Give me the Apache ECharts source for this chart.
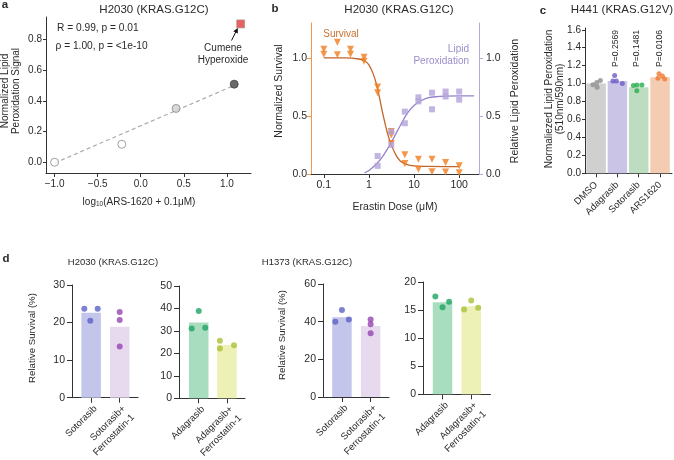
<!DOCTYPE html>
<html>
<head>
<meta charset="utf-8">
<script src="https://cdn.jsdelivr.net/npm/echarts@6/dist/echarts.min.js"></script>
<style>
  html, body { margin: 0; padding: 0; background: #fff; }
  #chart { width: 674px; height: 460px; }
</style>
</head>
<body>
<div id="chart"></div>
<script>
// ---------- data ----------
// a: lipid peroxidation vs log10 ARS-1620 dose
const aDoseLog = [-1.0, -0.22, 0.41, 1.085];
const aSignal = [0.0, 0.117, 0.35, 0.508];
const cumeneDoseLog = [1.16];
const cumeneSignal = [0.90];
const aFitLog = [-1.0, 1.085];
const aFitSignal = [-0.005, 0.5];
const aXTicks = [-1, -0.5, 0, 0.5, 1];
const aYTicks = [0, 0.2, 0.4, 0.6, 0.8];

// b: erastin dose response
const erastinDose = [0.1, 0.2, 0.39, 0.78, 1.56, 3.125, 6.25, 12.5, 25, 50, 100];
const survivalRep1 = [1.075, 1.135, 1.075, 1.006, 0.75, 0.365, 0.165, 0.127, 0.127, 0.098, 0.07];
const survivalRep2 = [1.03, 1.026, 1.03, 0.97, 0.70, 0.335, 0.09, 0.04, 0.02, 0.018, 0.01];
const survivalRep3 = [null, null, null, null, null, 0.263, null, null, null, null, null];
const lipidRep1 = [null, null, null, null, 0.155, 0.365, 0.537, 0.66, 0.70, 0.71, 0.71];
const lipidRep2 = [null, null, null, null, 0.07, 0.25, 0.437, 0.625, 0.557, 0.667, 0.64];
const survivalFitDose = [0.1, 0.3, 0.6, 0.8, 1.0, 1.25, 1.5, 1.75, 2.0, 2.5, 3.0, 4.0, 5.0, 7.0, 10, 20, 50, 100];
const survivalFit = [1.0, 1.0, 0.99, 0.975, 0.94, 0.86, 0.76, 0.64, 0.53, 0.37, 0.27, 0.16, 0.11, 0.08, 0.07, 0.065, 0.064, 0.064];
const lipidFitDose = [0.8, 1.0, 1.5, 2.0, 3.0, 4.0, 5.0, 7.0, 10, 15, 20, 30, 50, 100, 215];
const lipidFit = [0.01, 0.03, 0.09, 0.15, 0.26, 0.35, 0.42, 0.52, 0.59, 0.635, 0.655, 0.665, 0.67, 0.672, 0.672];
const bXTicks = [0.1, 1, 10, 100];
const bYTicks = [0, 0.5, 1.0];

// c: H441 lipid peroxidation
const cCats = ['DMSO', 'Adagrasib', 'Sotorasib', 'ARS1620'];
const cMeans = [1.0, 1.03, 0.96, 1.07];
const cDmso = [0.986, 1.011, 1.034, 0.96];
const cAdagrasib = [1.09, 1.03, 1.03, 1.0];
const cSotorasib = [0.98, 0.985, 0.985, 0.92];
const cArs1620 = [1.11, 1.086, 1.06, 1.05];
const cPValues = ['P=0.2569', 'P=0.1481', 'P=0.0106'];
const cYTicks = [0, 0.2, 0.4, 0.6, 0.8, 1.0, 1.2, 1.4, 1.6];

// d: relative survival
const sotoCats = ['Sotorasib', 'Sotorasib+\nFerrostatin-1'];
const adaCats = ['Adagrasib', 'Adagrasib+\nFerrostatin-1'];
const h2030SotoMeans = [22.6, 18.9];
const h2030Soto = [23.7, 20.5, 23.7];
const h2030SotoFer = [22.8, 20.7, 13.6];
const h2030AdaMeans = [33.8, 23.7];
const h2030Ada = [38.9, 31.1, 31.4];
const h2030AdaFer = [25.6, 22.2, 23.6];
const h1373SotoMeans = [42.3, 37.7];
const h1373Soto = [40.0, 46.2, 41.2];
const h1373SotoFer = [41.2, 38.6, 33.8];
const h1373AdaMeans = [16.4, 15.7];
const h1373Ada = [17.4, 15.5, 16.5];
const h1373AdaFer = [15.1, 16.7, 15.4];

// ---------- layout / style ----------
const FONT = '"Liberation Sans", Arial, Helvetica, sans-serif';
const INK = '#2a2a2a';
const AXIS = '#333';

// horizontal dot offsets inside each bar (layout only)
const cJitter = [[-0.15, 0.03, 0.2, 0.05], [-0.13, -0.21, -0.05, 0.23], [-0.25, -0.08, 0.15, -0.09], [-0.05, 0.11, -0.1, 0.22]];
const d1Jitter = [[-0.24, -0.03, 0.23], [0, 0, 0]];
const d2Jitter = [[0, -0.25, 0.23], [-0.25, -0.25, 0.25]];
const d3Jitter = [[-0.23, 0, 0.24], [0, 0, 0]];
const d4Jitter = [[-0.25, 0, 0.23], [-0.25, 0, 0.24]];

const cBarColors = ['#d0d0d0', '#cac4e6', '#bedcc0', '#f4ccb2'];
const cDotColors = ['#8f8f8f', '#6a5cc8', '#26ad4c', '#ee7a35'];
const sotoBar = ['#c3c6ea', '#e7daef'], sotoDot = ['#5c62c4', '#9545b2'];
const adaBar = ['#a9ddbf', '#eef1b5'], adaDot = ['#1fa463', '#a9c23a'];

function axisBase(color, ticks, fmt, extra) {
  const ax = {
    axisLine: { show: true, onZero: false, lineStyle: { color: color, width: 1 } },
    splitLine: { show: false },
    axisTick: { show: true, length: 4, customValues: ticks, lineStyle: { color: color, width: 1 } },
    axisLabel: { customValues: ticks, formatter: fmt, color: INK, fontSize: 10, fontFamily: FONT, margin: 4 }
  };
  return Object.assign(ax, extra || {});
}
const fix1 = v => (v < -1e-9 ? '\u2212' : '') + Math.abs(v).toFixed(1);

const grids = [
  { left: 46, top: 17, width: 205, height: 156 },      // a
  { left: 311, top: 23, width: 168, height: 151 },     // b
  { left: 585, top: 28, width: 87, height: 145.3 },    // c
  { left: 72, top: 285, width: 66, height: 112.7 },    // d1
  { left: 179, top: 286, width: 66, height: 112.3 },   // d2
  { left: 323, top: 284, width: 66, height: 113 },     // d3
  { left: 423, top: 282, width: 67.5, height: 112.3 }  // d4
].map(g => Object.assign({ outerBoundsMode: 'none', containLabel: false }, g));

function catX(grid, cats, min, max, fontSize, margin, vAlign, lh) {
  const a = axisBase(AXIS, [0, 1, 2, 3].slice(0, cats.length), v => cats[Math.round(v)], {
    gridIndex: grid, type: 'value', min: min, max: max
  });
  a.axisTick.length = 5;
  Object.assign(a.axisLabel, { rotate: 45, fontSize: fontSize, margin: margin, lineHeight: lh });
  if (vAlign) a.axisLabel.verticalAlign = vAlign;
  return a;
}
function valY(grid, min, max, ticks, fmt, color, extra) {
  return axisBase(color || AXIS, ticks, fmt, Object.assign({ gridIndex: grid, type: 'value', min: min, max: max }, extra || {}));
}

const xAxes = [
  axisBase(AXIS, aXTicks, fix1, { gridIndex: 0, type: 'value', min: -1.1, max: 1.28 }),
  axisBase(AXIS, bXTicks, v => String(Math.round(v * 10) / 10), { gridIndex: 1, type: 'log', logBase: 10, min: 0.052, max: 275 }),
  catX(2, cCats, -0.52, 3.56, 9.5, 10, null, 11),
  catX(3, sotoCats, -0.67, 1.64, 9.5, 5, 'top', 12.5),
  catX(4, adaCats, -0.70, 1.64, 9.5, 5, 'top', 12.5),
  catX(5, sotoCats, -0.66, 1.64, 9.5, 5, 'top', 12.5),
  catX(6, adaCats, -0.68, 1.67, 9.5, 5, 'top', 12.5)
];
xAxes[0].axisLabel.margin = 6;
xAxes[1].axisLabel.margin = 6;
xAxes[1].axisLabel.fontSize = 10.5;
xAxes[2].axisTick.length = 4;

const yAxes = [
  valY(0, -0.07, 0.945, aYTicks, fix1),
  valY(1, 0, 1.3, bYTicks, fix1, '#f3954a'),
  valY(1, 0, 1.3, bYTicks, fix1, '#b7a8dc', { position: 'right' }),
  valY(2, 0, 1.62, cYTicks, fix1),
  valY(3, 0, 30, [0, 10, 20, 30], String),
  valY(4, 0, 50, [0, 10, 20, 30, 40, 50], String),
  valY(5, 0, 60, [0, 20, 40, 60], String),
  valY(6, 0, 20, [0, 5, 10, 15, 20], String)
];
yAxes[0].axisTick.length = 3;
yAxes[1].axisLabel.fontSize = 10.5;
yAxes[2].axisLabel.fontSize = 10.5;
yAxes[2].axisLabel.margin = 7;
yAxes[3].axisTick.length = 3;
for (let i = 4; i < 8; i++) {
  yAxes[i].axisTick.length = 5;
  yAxes[i].axisLabel.margin = 7;
  yAxes[i].axisLabel.fontSize = 10.5;
}

// ---------- series ----------
const series = [];

// a
series.push({
  type: 'line', xAxisIndex: 0, yAxisIndex: 0, z: 1, silent: true, showSymbol: false,
  data: aFitLog.map((x, i) => [x, aFitSignal[i]]),
  lineStyle: { color: '#aaaaaa', width: 1.2, type: [4, 3] }
});
const aFills = ['#ffffff', '#ffffff', '#cfcfcf', '#454545'];
series.push({
  type: 'scatter', xAxisIndex: 0, yAxisIndex: 0, z: 3, symbolSize: 8,
  data: aDoseLog.map((x, i) => ({ value: [x, aSignal[i]], itemStyle: { color: aFills[i], borderColor: i === 3 ? '#454545' : '#888', borderWidth: 1 } }))
});
series.push({
  type: 'scatter', xAxisIndex: 0, yAxisIndex: 0, z: 3, symbol: 'rect', symbolSize: 8,
  data: cumeneDoseLog.map((x, i) => [x, cumeneSignal[i]]),
  itemStyle: { color: '#e5383b', borderColor: '#999', borderWidth: 0.8 }
});

// b
const pairs = (xs, ys) => xs.map((x, i) => [x, ys[i]]).filter(p => p[1] != null);
series.push({
  type: 'line', xAxisIndex: 1, yAxisIndex: 1, z: 2, showSymbol: false, smooth: 0.3,
  data: pairs(survivalFitDose, survivalFit), lineStyle: { color: '#c4652b', width: 1.3 }
});
series.push({
  type: 'line', xAxisIndex: 1, yAxisIndex: 2, z: 2, showSymbol: false, smooth: 0.3,
  data: pairs(lipidFitDose, lipidFit), lineStyle: { color: '#9583cb', width: 1.3 }
});
[survivalRep1, survivalRep2, survivalRep3].forEach(rep => series.push({
  type: 'scatter', xAxisIndex: 1, yAxisIndex: 1, z: 3, symbol: 'triangle', symbolRotate: 180, symbolSize: 7,
  data: pairs(erastinDose, rep), itemStyle: { color: '#f07d1f' }
}));
[lipidRep1, lipidRep2].forEach(rep => series.push({
  type: 'scatter', xAxisIndex: 1, yAxisIndex: 2, z: 3, symbol: 'rect', symbolSize: 6,
  data: pairs(erastinDose, rep), itemStyle: { color: '#b3a3db' }
}));

// bar + dot panels
function barPanel(axis, means, reps, jitter, barColors, dotColors, barWidth, dotSize) {
  series.push({
    type: 'bar', xAxisIndex: axis, yAxisIndex: axis + 1, z: 2, barWidth: barWidth, silent: true,
    data: means.map((m, i) => ({ value: [i, m], itemStyle: { color: barColors[i] } }))
  });
  const dots = [];
  reps.forEach((rep, i) => rep.forEach((v, j) => dots.push({ value: [i + jitter[i][j], v], itemStyle: { color: dotColors[i] } })));
  series.push({ type: 'scatter', xAxisIndex: axis, yAxisIndex: axis + 1, z: 3, symbolSize: dotSize, data: dots });
}
barPanel(2, cMeans, [cDmso, cAdagrasib, cSotorasib, cArs1620], cJitter, cBarColors, cDotColors, 19.5, 5);
barPanel(3, h2030SotoMeans, [h2030Soto, h2030SotoFer], d1Jitter, sotoBar, sotoDot, 19.5, 6);
barPanel(4, h2030AdaMeans, [h2030Ada, h2030AdaFer], d2Jitter, adaBar, adaDot, 19.5, 6);
barPanel(5, h1373SotoMeans, [h1373Soto, h1373SotoFer], d3Jitter, sotoBar, sotoDot, 19.5, 6);
barPanel(6, h1373AdaMeans, [h1373Ada, h1373AdaFer], d4Jitter, adaBar, adaDot, 19.5, 6);

// ---------- text ----------
function txt(x, y, text, size, o) {
  o = o || {};
  const align = o.align || 'center';
  return {
    type: 'text', x: x, y: y, rotation: o.rot || 0, z: 100, silent: true,
    style: {
      text: text, fill: o.color || INK,
      font: (o.bold ? 'bold ' : '') + size + 'px ' + FONT,
      fontSize: size, fontFamily: FONT, fontWeight: o.bold ? 'bold' : 'normal',
      align: align, verticalAlign: 'middle', textAlign: align, textVerticalAlign: 'middle',
      lineHeight: o.lh || Math.round(size * 1.15), rich: o.rich
    }
  };
}
const UP = Math.PI / 2;
const graphics = [
  txt(5, 5, 'a', 11.5, { bold: true }),
  txt(275, 9, 'b', 11.5, { bold: true }),
  txt(543, 11, 'c', 11.5, { bold: true }),
  txt(6, 259, 'd', 11.5, { bold: true }),
  txt(154, 10, 'H2030 (KRAS.G12C)', 11.5),
  txt(399, 10, 'H2030 (KRAS.G12C)', 11.5),
  txt(622, 10, 'H441 (KRAS.G12V)', 11.5),
  txt(113, 262, 'H2030 (KRAS.G12C)', 9.5),
  txt(307, 262, 'H1373 (KRAS.G12C)', 9.5),
  // a
  txt(57, 28, 'R = 0.99, p = 0.01', 10.2, { align: 'left' }),
  txt(55.5, 46, '\u03c1 = 1.00, p = <1e-10', 10.2, { align: 'left' }),
  txt(223, 48.5, 'Cumene', 10),
  txt(223, 60, 'Hyperoxide', 10),
  txt(10.5, 91, 'Normalized Lipid\nPeroxidation Signal', 10, { rot: UP, lh: 11.5 }),
  {
    type: 'text', x: 139, y: 202, z: 100, silent: true,
    style: {
      text: '{n|log}{s|10}{n|(ARS-1620 + 0.1\u03bcM)}', align: 'center', verticalAlign: 'middle',
      textAlign: 'center', textVerticalAlign: 'middle',
      rich: {
        n: { fontSize: 10, fontFamily: FONT, fill: INK, color: INK, lineHeight: 12 },
        s: { fontSize: 6.5, fontFamily: FONT, fill: INK, color: INK, lineHeight: 12, padding: [5, 0, 0, 0] }
      }
    }
  },
  { type: 'line', z: 100, silent: true, shape: { x1: 231.5, y1: 40.5, x2: 236.4, y2: 30.8 }, style: { stroke: '#111', lineWidth: 1 } },
  { type: 'polygon', z: 100, silent: true, shape: { points: [[237.8, 28], [237.8, 33.6], [233.3, 31.35]] }, style: { fill: '#111' } },
  // b
  txt(341, 34, 'Survival', 10, { color: '#c8702f' }),
  txt(469, 49, 'Lipid', 10, { align: 'right', color: '#9c8dcb' }),
  txt(469, 61, 'Peroxidation', 10, { align: 'right', color: '#9c8dcb' }),
  txt(279, 91, 'Normalized Survival', 10.5, { rot: UP }),
  txt(515, 101, 'Relative Lipid Peroxidation', 10.5, { rot: UP }),
  txt(395, 207, 'Erastin Dose (\u03bcM)', 10.5),
  // c
  txt(554.5, 99, 'Normaliezed Lipid Peroxidation\n(510nm/590nm)', 10, { rot: UP, lh: 11 }),
  txt(615.7, 48.5, cPValues[0], 8.6, { rot: UP }),
  txt(637, 48.5, cPValues[1], 8.6, { rot: UP }),
  txt(659.3, 48.5, cPValues[2], 8.6, { rot: UP }),
  // d
  txt(32, 338, 'Relative Survival (%)', 9.7, { rot: UP }),
  txt(282.7, 335, 'Relative Survival (%)', 9.7, { rot: UP })
];

const chart = echarts.init(document.getElementById('chart'), null, { renderer: 'canvas' });
chart.setOption({
  animation: false,
  backgroundColor: '#ffffff',
  textStyle: { fontFamily: FONT },
  grid: grids,
  xAxis: xAxes,
  yAxis: yAxes,
  series: series,
  graphic: graphics
});
</script>
</body>
</html>
